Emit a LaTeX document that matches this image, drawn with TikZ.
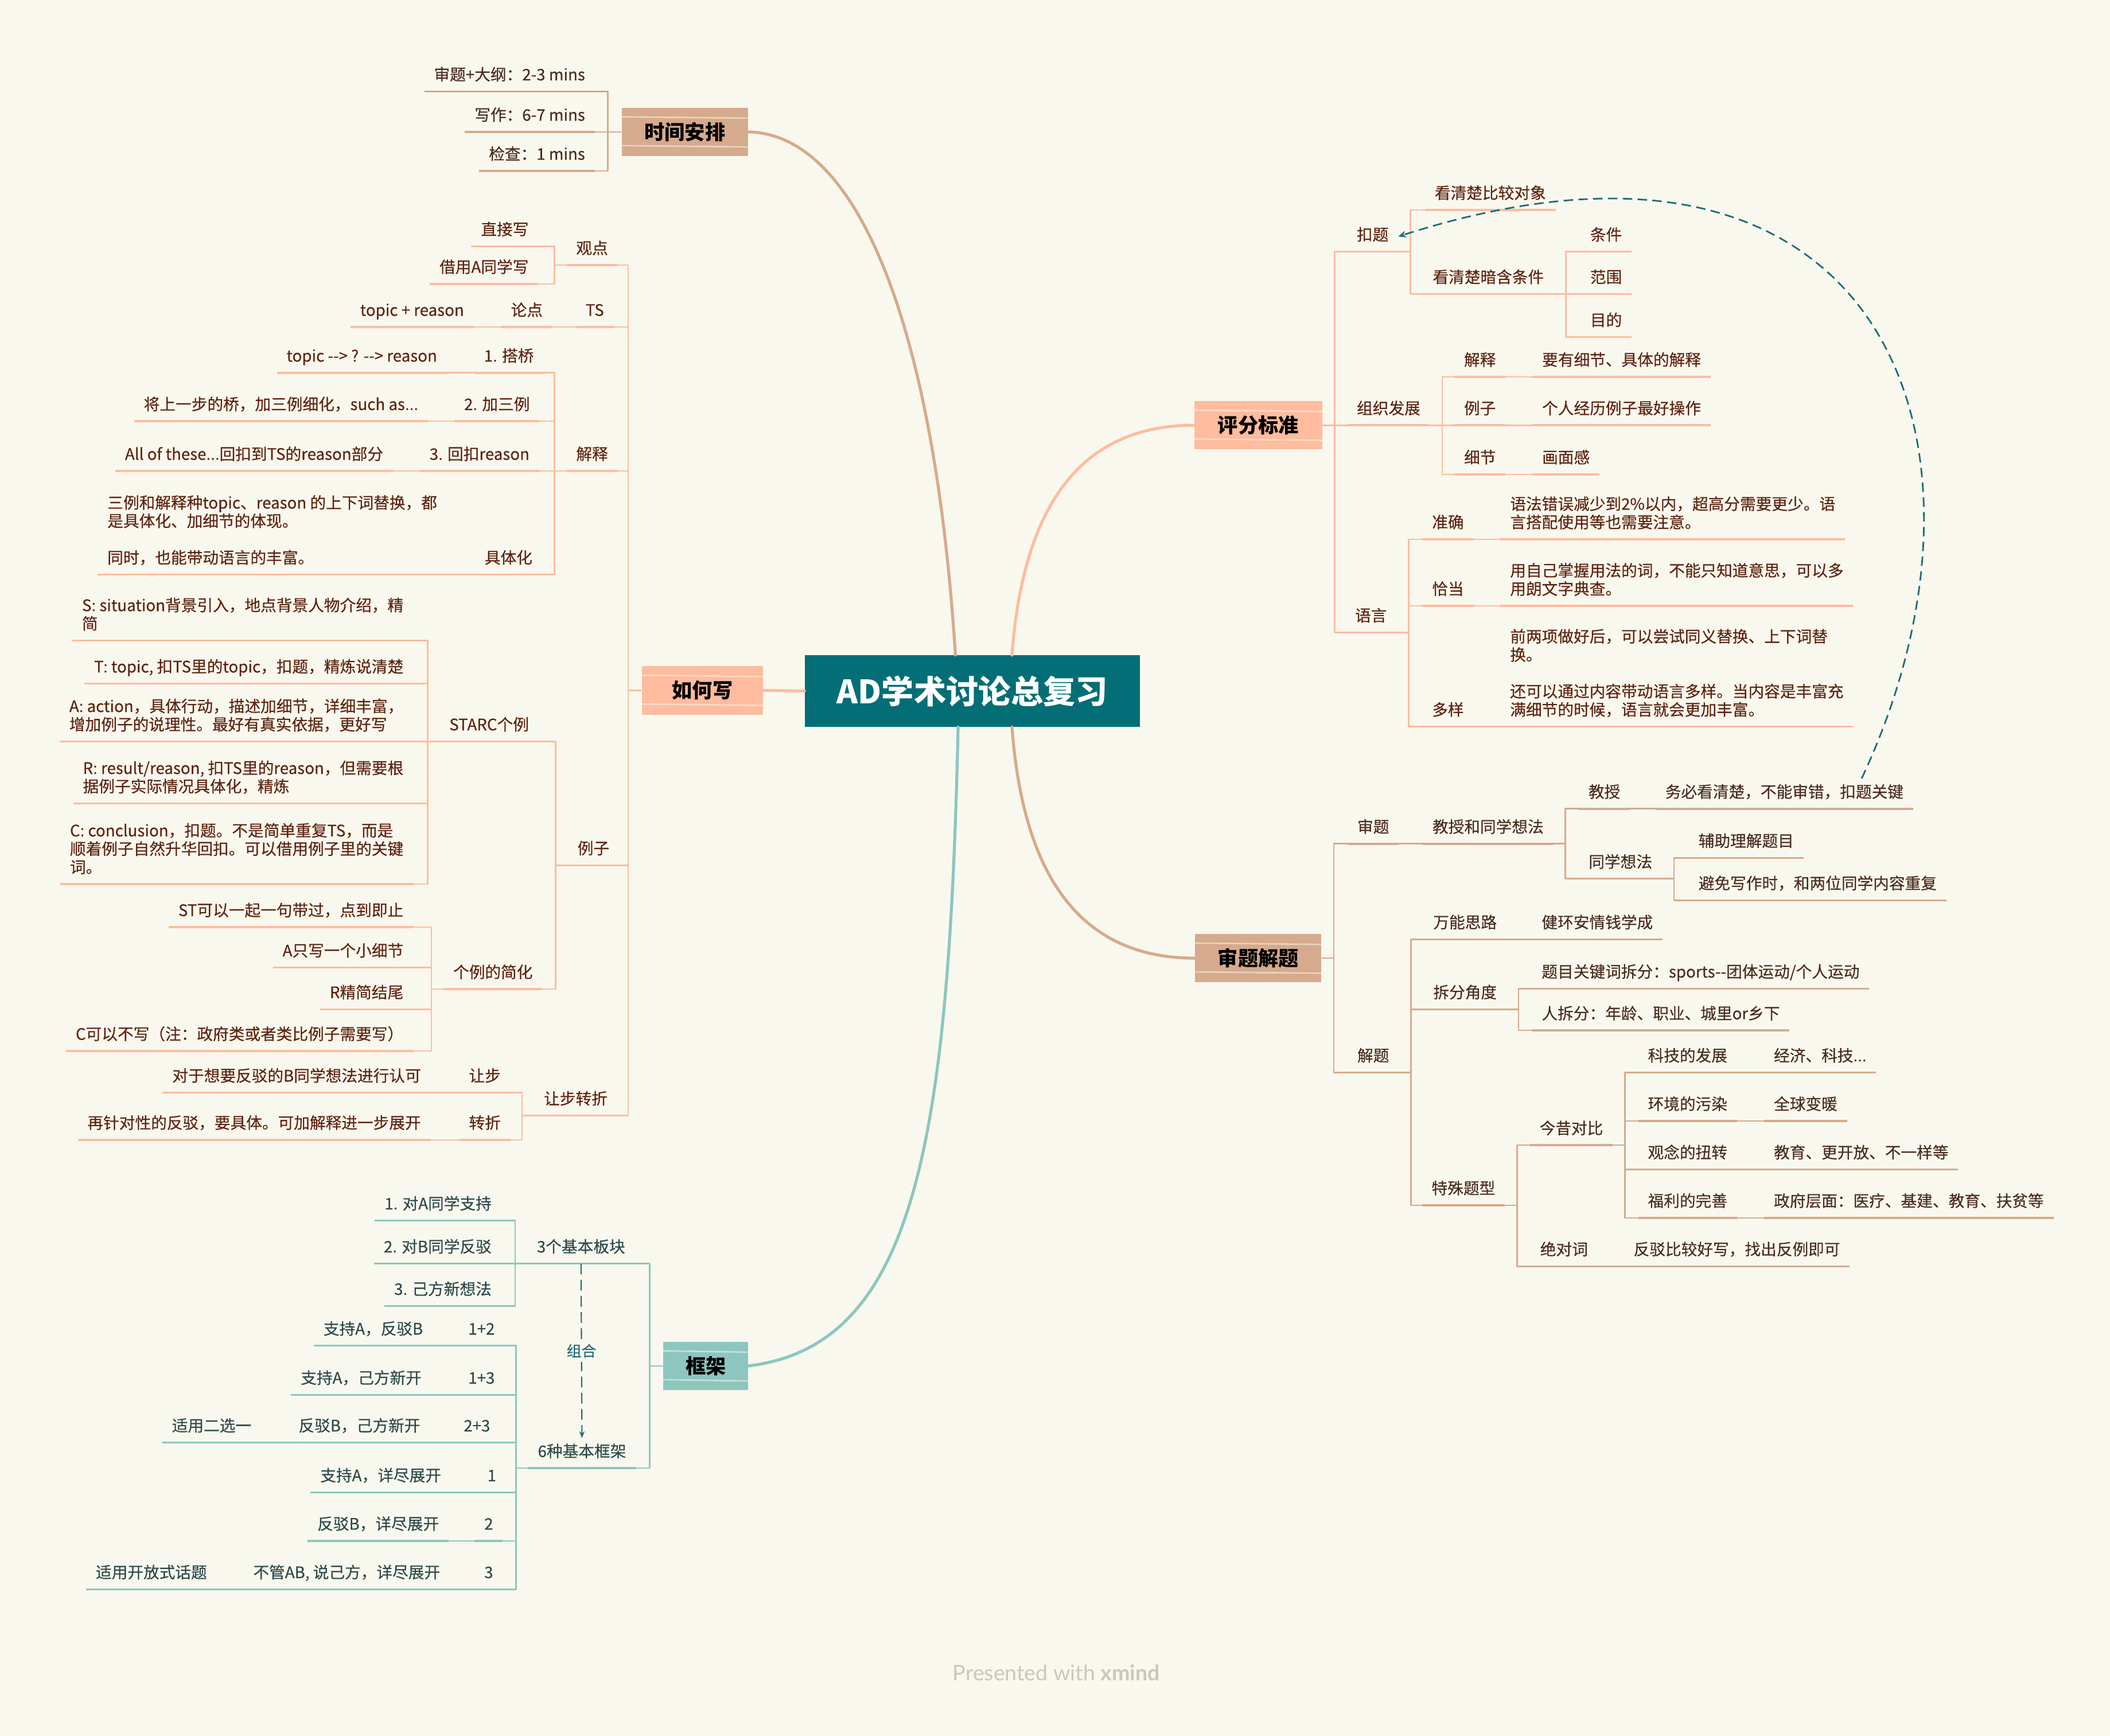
\documentclass[tikz,border=0pt]{standalone}
\usepackage{fontspec}
\setmainfont{Noto Sans CJK SC}[UprightFeatures={FakeBold=0.35}]
\newfontfamily\footfont{Lato}
\usetikzlibrary{arrows.meta,calc}

\definecolor{paper}{HTML}{F9F8EE}
\definecolor{brTan}{HTML}{D6AA8C}
\definecolor{brSal}{HTML}{FFBC9E}
\definecolor{brTeal}{HTML}{8CC6BF}
\definecolor{core}{HTML}{036E75}
\definecolor{salTxt}{HTML}{5E2410}
\definecolor{tanTxt}{HTML}{4A2D1F}
\definecolor{tealTxt}{HTML}{2D4A4B}
\definecolor{relC}{HTML}{1E6D78}
\definecolor{foot}{HTML}{C8C8BF}

\tikzset{
  txt/.style={inner ysep=4pt, inner xsep=7pt, align=left,
    font=\fontsize{11.8}{13.6}\selectfont, execute at end node=\strut},
  L/.style={txt, anchor=south east},
  Lp/.style={txt, anchor=south west},
  R/.style={txt, anchor=south west},
  Rp/.style={txt, anchor=south east},
  topicbox/.style={fill=#1, minimum height=36pt, inner sep=0pt,
    font=\fontsize{15}{18}\selectfont\bfseries, text=black},
  streak/.style={draw=paper, line width=1.1pt, opacity=.55},
  main/.style={line width=2.2pt, line cap=round},
  rel/.style={draw=relC, line width=1.2pt, dash pattern=on 7pt off 4pt,
    -{Stealth[length=6pt,width=5pt]}},
}

% underline under every listed topic
\newcommand\ulines[1]{\foreach \n in {#1} {\draw[ul] (\n.south west) -- (\n.south east);}}
% bracket connectors: left side, right side, and from a main topic box
\newcommand\linkL[2]{\draw[ln] (#1.south west) -- ++(-9pt,0) |- (#2.south east);}
\newcommand\linkR[2]{\draw[ln] (#1.south east) -- ++(9pt,0) |- (#2.south west);}
\newcommand\rootL[2]{\draw[ln] (#1.west) -- ++(-10pt,0) |- (#2.south east);}
\newcommand\rootR[2]{\draw[ln] (#1.east) -- ++(9pt,0) |- (#2.south west);}

\begin{document}
\begin{tikzpicture}[x=1pt,y=-1pt, line join=round]
\fill[paper] (0,0) rectangle (1568,1290);
\useasboundingbox (0,0) rectangle (1568,1290);

% central topic
\node[fill=core, text=white, minimum width=249pt, minimum height=53pt,
  font=\fontsize{24}{28}\selectfont\bfseries] (core) at (722.5,513.5) {AD学术讨论总复习};

% ---------------- 时间安排 ----------------
\begin{scope}[ln/.style={draw=brTan, line width=1.1pt}, ul/.style={draw=brTan, line width=1.5pt},
  every node/.append style={text=tanTxt}]
\node[topicbox=brTan, minimum width=94pt] (tm) at (509,98) {时间安排};
\node[L] (tm1) at (442,68) {审题+大纲：2-3 mins};
\node[L] (tm2) at (442,98) {写作：6-7 mins};
\node[L] (tm3) at (442,127) {检查：1 mins};
\rootL{tm}{tm1} \rootL{tm}{tm2} \rootL{tm}{tm3}
\ulines{tm1,tm2,tm3}
\draw[main, brTan] ([xshift=-12.5pt]core.north) .. controls (695,250) and (640,100) .. (tm.east);
\end{scope}

% ---------------- 如何写 ----------------
\begin{scope}[ln/.style={draw=brSal, line width=1.1pt}, ul/.style={draw=brSal, line width=1.5pt},
  every node/.append style={text=salTxt}]
\node[topicbox=brSal, minimum width=90pt] (hw) at (522,513) {如何写};
\node[Lp] (hw1) at (421,197) {观点};
\node[L] (hw11) at (400,183) {直接写};
\node[L] (hw12) at (400,211) {借用A同学写};
\node[Lp] (hw2) at (428,243) {TS};
\node[Lp] (hw21) at (372.5,243) {论点};
\node[L] (hw211) at (352,243) {topic + reason};
\node[Lp] (hw3) at (421,350) {解释};
\node[Lp] (hw31) at (352.5,277) {1. 搭桥};
\node[L] (hw311) at (332,277) {topic -{}-> ? -{}-> reason};
\node[Lp] (hw32) at (337.7,313) {2. 加三例};
\node[L] (hw321) at (318,313) {将上一步的桥，加三例细化，such as...};
\node[Lp] (hw33) at (312,350) {3. 回扣reason};
\node[L] (hw331) at (292,350) {All of these...回扣到TS的reason部分};
\node[Lp] (hw34) at (353,427) {具体化};
\node[L] (hw341) at (332,427) {三例和解释种topic、reason 的上下词替换，都\\是具体化、加细节的体现。\\[13.6pt]同时，也能带动语言的丰富。};
\node[Lp] (hw4) at (422,643) {例子};
\node[Lp] (hw41) at (326.7,551) {STARC个例};
\node[L] (hw411) at (307,476) {S: situation背景引入，地点背景人物介绍，精\\简};
\node[L] (hw412) at (307,508) {T: topic, 扣TS里的topic，扣题，精炼说清楚};
\node[L] (hw413) at (307,551) {A: action，具体行动，描述加细节，详细丰富，\\增加例子的说理性。最好有真实依据，更好写};
\node[L] (hw414) at (307,597) {R: result/reason, 扣TS里的reason，但需要根\\据例子实际情况具体化，精炼};
\node[L] (hw415) at (307,657) {C: conclusion，扣题。不是简单重复TS，而是\\顺着例子自然升华回扣。可以借用例子里的关键\\词。};
\node[Lp] (hw42) at (329.6,735) {个例的简化};
\node[L] (hw421) at (307,689) {ST可以一起一句带过，点到即止};
\node[L] (hw422) at (307,719) {A只写一个小细节};
\node[L] (hw423) at (307,750) {R精简结尾};
\node[L] (hw424) at (307,781) {C可以不写（注：政府类或者类比例子需要写）};
\node[Lp] (hw5) at (397,829) {让步转折};
\node[Lp] (hw51) at (341.3,812) {让步};
\node[L] (hw511) at (320,812) {对于想要反驳的B同学想法进行认可};
\node[Lp] (hw52) at (341.3,847) {转折};
\node[L] (hw521) at (320,847) {再针对性的反驳，要具体。可加解释进一步展开};
\foreach \c in {hw1,hw2,hw3,hw4,hw5} {\rootL{hw}{\c}}
\linkL{hw1}{hw11} \linkL{hw1}{hw12}
\linkL{hw2}{hw21} \linkL{hw21}{hw211}
\foreach \c in {hw31,hw32,hw33,hw34} {\linkL{hw3}{\c}}
\linkL{hw31}{hw311} \linkL{hw32}{hw321} \linkL{hw33}{hw331} \linkL{hw34}{hw341}
\linkL{hw4}{hw41} \linkL{hw4}{hw42}
\foreach \c in {hw411,hw412,hw413,hw414,hw415} {\linkL{hw41}{\c}}
\foreach \c in {hw421,hw422,hw423,hw424} {\linkL{hw42}{\c}}
\linkL{hw5}{hw51} \linkL{hw5}{hw52} \linkL{hw51}{hw511} \linkL{hw52}{hw521}
\ulines{hw1,hw11,hw12,hw2,hw21,hw211,hw3,hw31,hw311,hw32,hw321,hw33,hw331,hw34,hw341,
  hw4,hw41,hw411,hw412,hw413,hw414,hw415,hw42,hw421,hw422,hw423,hw424,hw5,hw51,hw511,hw52,hw521}
\draw[main, brSal] (core.west) -- (hw.east);
\end{scope}

% ---------------- 框架 ----------------
\begin{scope}[ln/.style={draw=brTeal, line width=1.1pt}, ul/.style={draw=brTeal, line width=1.5pt},
  every node/.append style={text=tealTxt}]
\node[topicbox=brTeal, minimum width=63pt] (fw) at (524.5,1015) {框架};
\node[Lp] (fw1) at (391.8,939) {3个基本板块};
\node[L] (fw11) at (372.5,907) {1. 对A同学支持};
\node[L] (fw12) at (372.5,939) {2. 对B同学反驳};
\node[L] (fw13) at (372.5,970.5) {3. 己方新想法};
\node[Lp] (fw2) at (392.5,1091) {6种基本框架};
\node[Lp] (fw21) at (340.8,1000) {1+2};
\node[L] (fw211) at (321.5,1000) {支持A，反驳B};
\node[Lp] (fw22) at (340.8,1036.5) {1+3};
\node[L] (fw221) at (320.5,1036.5) {支持A，己方新开};
\node[Lp] (fw23) at (337.4,1072) {2+3};
\node[Lp] (fw231) at (214.7,1072) {反驳B，己方新开};
\node[L] (fw2311) at (194,1072) {适用二选一};
\node[Lp] (fw24) at (355,1109) {1};
\node[L] (fw241) at (335,1109) {支持A，详尽展开};
\node[Lp] (fw25) at (352.7,1145) {2};
\node[L] (fw251) at (333.4,1145) {反驳B，详尽展开};
\node[Lp] (fw26) at (352.7,1181) {3};
\node[Lp] (fw261) at (181,1181) {不管AB, 说己方，详尽展开};
\node[L] (fw2611) at (161,1181) {适用开放式话题};
\rootL{fw}{fw1} \rootL{fw}{fw2}
\linkL{fw1}{fw11} \linkL{fw1}{fw12} \linkL{fw1}{fw13}
\foreach \c in {fw21,fw22,fw23,fw24,fw25,fw26} {\linkL{fw2}{\c}}
\linkL{fw21}{fw211} \linkL{fw22}{fw221} \linkL{fw23}{fw231} \linkL{fw231}{fw2311}
\linkL{fw24}{fw241} \linkL{fw25}{fw251} \linkL{fw26}{fw261} \linkL{fw261}{fw2611}
\ulines{fw1,fw11,fw12,fw13,fw2,fw21,fw211,fw22,fw221,fw23,fw231,fw2311,fw24,fw241,fw25,fw251,fw26,fw261,fw2611}
\draw[draw=relC, line width=.9pt, dash pattern=on 8pt off 4pt, -{Stealth[length=5pt,width=4pt]}]
  (fw1.south) -- node[fill=paper, text=relC, inner sep=3pt, font=\fontsize{11}{13}\selectfont] (zh) {组合} (fw2.north);
\draw[main, brTeal] ([xshift=-10.5pt]core.south) .. controls (705,850) and (680,1000) .. (fw.east);
\end{scope}

% ---------------- 评分标准 ----------------
\begin{scope}[ln/.style={draw=brSal, line width=1.1pt}, ul/.style={draw=brSal, line width=1.5pt},
  every node/.append style={text=salTxt}]
\node[topicbox=brSal, minimum width=95pt] (sc) at (935,316) {评分标准};
\node[Rp] (sc1) at (1039,187) {扣题};
\node[R] (sc11) at (1059,156) {看清楚比较对象};
\node[Rp] (sc12) at (1154.5,218.5) {看清楚暗含条件};
\node[R] (sc121) at (1174.5,187) {条件};
\node[R] (sc122) at (1174.5,218.5) {范围};
\node[R] (sc123) at (1174.5,250.5) {目的};
\node[Rp] (sc2) at (1062.7,316) {组织发展};
\node[Rp] (sc21) at (1118.8,280) {解释};
\node[R] (sc211) at (1138.8,280) {要有细节、具体的解释};
\node[Rp] (sc22) at (1118.8,316) {例子};
\node[R] (sc221) at (1138.8,316) {个人经历例子最好操作};
\node[Rp] (sc23) at (1118.8,352.5) {细节};
\node[R] (sc231) at (1138.8,352.5) {画面感};
\node[Rp] (sc3) at (1037.8,470) {语言};
\node[Rp] (sc31) at (1095,400.7) {准确};
\node[R] (sc311) at (1115,400.7) {语法错误减少到2\%以内，超高分需要更少。语\\言搭配使用等也需要注意。};
\node[Rp] (sc32) at (1095,450.2) {恰当};
\node[R] (sc321) at (1115,450.2) {用自己掌握用法的词，不能只知道意思，可以多\\用朗文字典查。};
\node[Rp] (sc33) at (1095,540) {多样};
\node[R] (sc331) at (1115,540) {前两项做好后，可以尝试同义替换、上下词替\\换。\\[13.6pt]还可以通过内容带动语言多样。当内容是丰富充\\满细节的时候，语言就会更加丰富。};
\rootR{sc}{sc1} \rootR{sc}{sc2} \rootR{sc}{sc3}
\linkR{sc1}{sc11} \linkR{sc1}{sc12}
\linkR{sc12}{sc121} \linkR{sc12}{sc122} \linkR{sc12}{sc123}
\linkR{sc2}{sc21} \linkR{sc2}{sc22} \linkR{sc2}{sc23}
\linkR{sc21}{sc211} \linkR{sc22}{sc221} \linkR{sc23}{sc231}
\linkR{sc3}{sc31} \linkR{sc3}{sc32} \linkR{sc3}{sc33}
\linkR{sc31}{sc311} \linkR{sc32}{sc321} \linkR{sc33}{sc331}
\ulines{sc1,sc11,sc12,sc121,sc122,sc123,sc2,sc21,sc211,sc22,sc221,sc23,sc231,sc3,sc31,sc311,sc32,sc321,sc33,sc331}
\draw[main, brSal] ([xshift=29.5pt]core.north) .. controls (760,380) and (800,316) .. (sc.west);
\end{scope}

% ---------------- 审题解题 ----------------
\begin{scope}[ln/.style={draw=brTan, line width=1.1pt}, ul/.style={draw=brTan, line width=1.5pt},
  every node/.append style={text=tanTxt}]
\node[topicbox=brTan, minimum width=94pt] (ex) at (935,712) {审题解题};
\node[Rp] (ex1) at (1039.5,627) {审题};
\node[Rp] (ex11) at (1154.3,627) {教授和同学想法};
\node[Rp] (ex111) at (1211.2,601) {教授};
\node[R] (ex1111) at (1230.3,601) {务必看清楚，不能审错，扣题关键};
\node[Rp] (ex112) at (1235,653) {同学想法};
\node[R] (ex1121) at (1255,637.5) {辅助理解题目};
\node[R] (ex1122) at (1255,669) {避免写作时，和两位同学内容重复};
\node[Rp] (ex2) at (1039.5,797) {解题};
\node[Rp] (ex21) at (1119.5,698) {万能思路};
\node[R] (ex211) at (1138.5,698) {健环安情钱学成};
\node[Rp] (ex22) at (1119.5,750) {拆分角度};
\node[R] (ex221) at (1138.5,734.7) {题目关键词拆分：sports-{}-团体运动/个人运动};
\node[R] (ex222) at (1138.5,765.7) {人拆分：年龄、职业、城里or乡下};
\node[Rp] (ex23) at (1118.3,895.6) {特殊题型};
\node[Rp] (ex231) at (1198.5,851) {今昔对比};
\node[Rp] (ex2311) at (1290.8,797) {科技的发展};
\node[R] (ex23111) at (1311,797) {经济、科技...};
\node[Rp] (ex2312) at (1290.8,833) {环境的污染};
\node[R] (ex23121) at (1311,833) {全球变暖};
\node[Rp] (ex2313) at (1290.8,869) {观念的扭转};
\node[R] (ex23131) at (1311,869) {教育、更开放、不一样等};
\node[Rp] (ex2314) at (1290.8,905) {福利的完善};
\node[R] (ex23141) at (1311,905) {政府层面：医疗、基建、教育、扶贫等};
\node[Rp] (ex232) at (1187.2,941) {绝对词};
\node[R] (ex2321) at (1206.8,941) {反驳比较好写，找出反例即可};
\rootR{ex}{ex1} \rootR{ex}{ex2}
\linkR{ex1}{ex11} \linkR{ex11}{ex111} \linkR{ex11}{ex112}
\linkR{ex111}{ex1111} \linkR{ex112}{ex1121} \linkR{ex112}{ex1122}
\linkR{ex2}{ex21} \linkR{ex2}{ex22} \linkR{ex2}{ex23}
\linkR{ex21}{ex211} \linkR{ex22}{ex221} \linkR{ex22}{ex222}
\linkR{ex23}{ex231} \linkR{ex23}{ex232} \linkR{ex232}{ex2321}
\foreach \c in {ex2311,ex2312,ex2313,ex2314} {\linkR{ex231}{\c}}
\linkR{ex2311}{ex23111} \linkR{ex2312}{ex23121} \linkR{ex2313}{ex23131} \linkR{ex2314}{ex23141}
\ulines{ex1,ex11,ex111,ex1111,ex112,ex1121,ex1122,ex2,ex21,ex211,ex22,ex221,ex222,ex23,ex231,
  ex2311,ex23111,ex2312,ex23121,ex2313,ex23131,ex2314,ex23141,ex232,ex2321}
\draw[main, brTan] ([xshift=29.5pt]core.south) .. controls (760,647) and (800,712) .. (ex.west);
\end{scope}

% hand-painted streaks across the main topic boxes
\foreach \b in {tm,hw,fw,sc,ex} {
  \draw[streak] ([yshift=-7pt]\b.north west) -- ([yshift=-8pt]\b.north east);
  \draw[streak] ([yshift=8pt]\b.south west) -- ([yshift=7pt]\b.south east);
}

% relationship: 教授 note back to 扣题
\draw[rel] ($(ex1111.north)!0.6!(ex1111.north east)$) .. controls (1500,330) and (1400,60) .. (sc1.east);

% footer
\node[font=\footfont\fontsize{16}{18}\selectfont, text=foot] (ft) at (785,1243) {Presented with \textbf{xmind}};
\end{tikzpicture}
\end{document}
